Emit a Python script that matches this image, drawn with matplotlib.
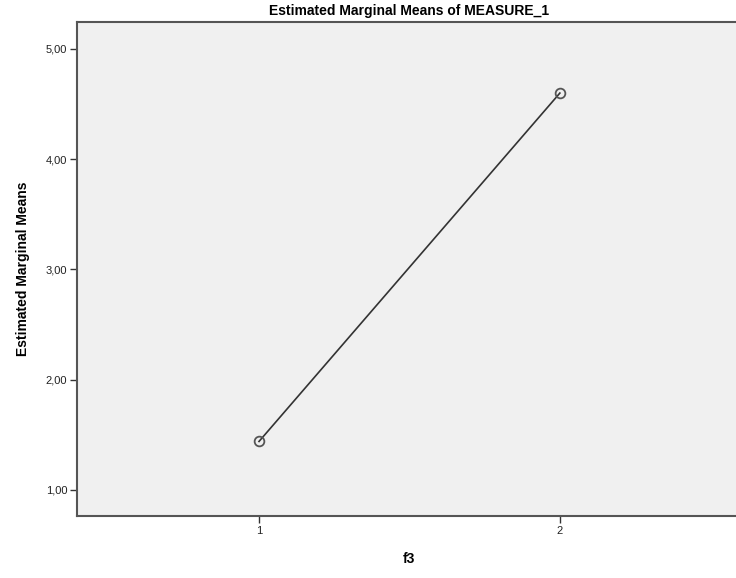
import matplotlib.pyplot as plt

# Estimated marginal means for factor f3
levels = [1, 2]
means = [1.44, 4.60]
ytick_vals = [1, 2, 3, 4, 5]
ytick_labels = ["1,00", "2,00", "3,00", "4,00", "5,00"]

plt.rcParams["font.family"] = ["Liberation Sans", "DejaVu Sans"]

fig = plt.figure(figsize=(7.36, 5.78), dpi=100)
ax = fig.add_axes([0.1046, 0.1073, 0.9034, 0.8547])
ax.set_facecolor("#f0f0f0")

ax.plot(levels, means, color="#333333", linewidth=1.2,
        marker="o", markersize=7, markerfacecolor="none",
        markeredgecolor="#555555", markeredgewidth=1.3)

ax.set_xlim(1 - 0.605, 2 + 0.605)
ax.set_ylim(0.764, 5.245)
ax.set_xticks(levels)
ax.set_xticklabels([str(v) for v in levels])
ax.set_yticks(ytick_vals)
ax.set_yticklabels(ytick_labels)
ax.tick_params(direction="out", length=5, width=1, color="#333333",
               labelsize=8, labelcolor="#222222", pad=2)

for side in ["left", "bottom", "top", "right"]:
    ax.spines[side].set_color("#555555")
    ax.spines[side].set_linewidth(1.5)

fig.text(0.5 * (0.1046 + 1.008), 0.981, "Estimated Marginal Means of MEASURE_1",
         ha="center", va="center", fontsize=10, fontweight="bold")
ax.set_ylabel("Estimated Marginal Means", fontsize=10, fontweight="bold", labelpad=11)
ax.set_xlabel("f3", fontsize=10, fontweight="bold", labelpad=12)

fig.savefig("out.png", dpi=100, facecolor="white")
